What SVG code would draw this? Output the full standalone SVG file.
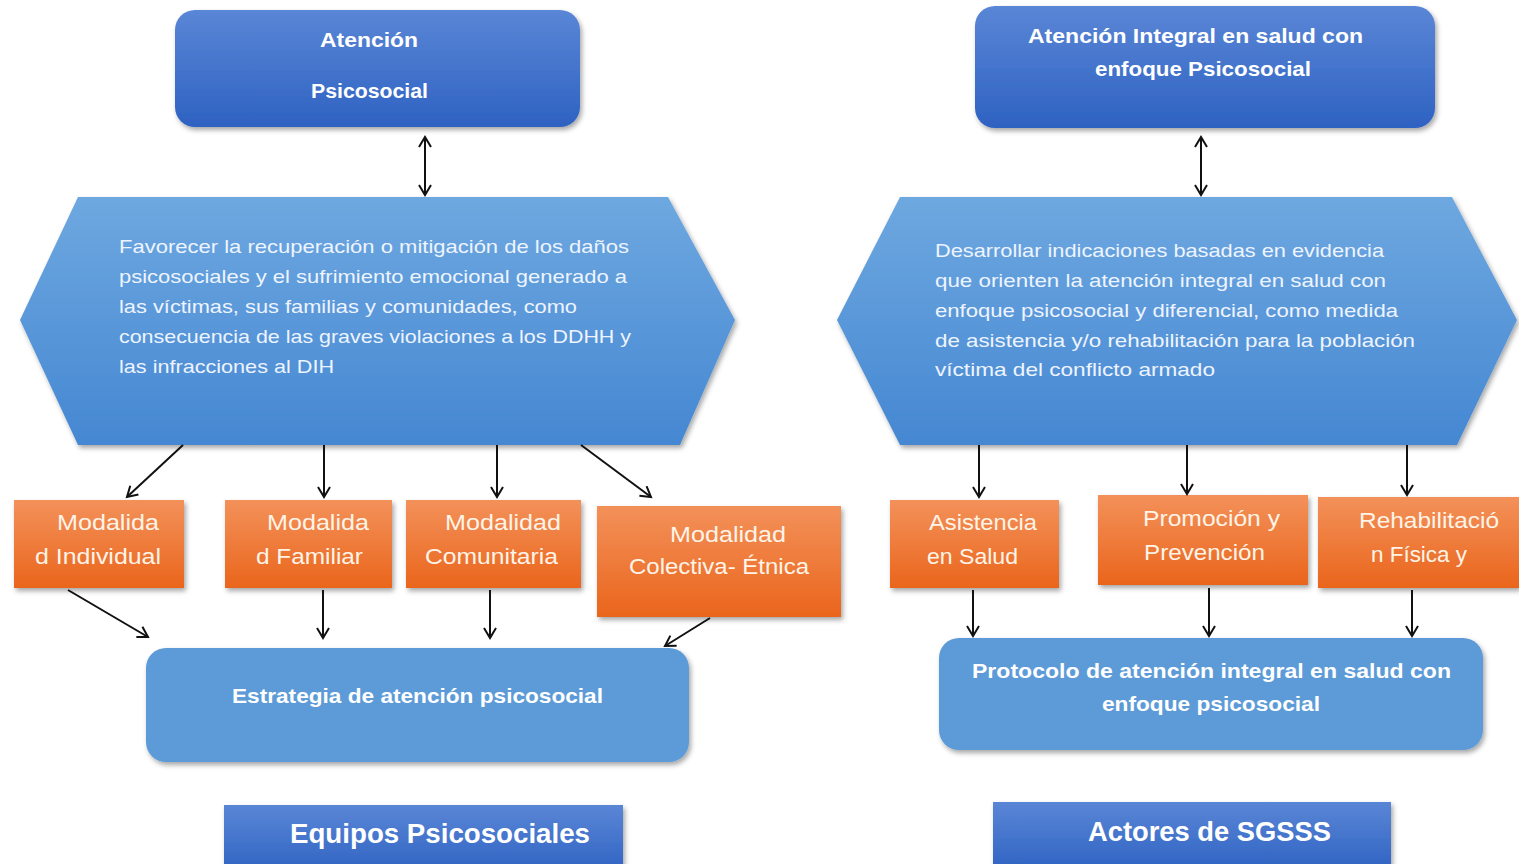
<svg xmlns="http://www.w3.org/2000/svg" width="1519" height="864" viewBox="0 0 1519 864">
<defs>
<linearGradient id="gBlue" x1="0" y1="0" x2="0" y2="1"><stop offset="0" stop-color="#5a86d6"/><stop offset="1" stop-color="#2e62c2"/></linearGradient>
<linearGradient id="gHex" x1="0" y1="0" x2="0" y2="1"><stop offset="0" stop-color="#6ea8e0"/><stop offset="1" stop-color="#4587d2"/></linearGradient>
<linearGradient id="gOr" x1="0" y1="0" x2="0" y2="1"><stop offset="0" stop-color="#f3915a"/><stop offset="1" stop-color="#ea651c"/></linearGradient>
<filter id="sh" x="-10%" y="-10%" width="120%" height="130%"><feDropShadow dx="2" dy="3" stdDeviation="2.5" flood-color="#000" flood-opacity="0.35"/></filter>
<marker id="ah" markerWidth="14" markerHeight="14" refX="11" refY="7" orient="auto" markerUnits="userSpaceOnUse"><path d="M1,1 L11,7 L1,13" fill="none" stroke="#111" stroke-width="2"/></marker>
<marker id="as" markerWidth="14" markerHeight="14" refX="3" refY="7" orient="auto" markerUnits="userSpaceOnUse"><path d="M13,1 L3,7 L13,13" fill="none" stroke="#111" stroke-width="2"/></marker>
</defs>
<style>
text{font-family:"Liberation Sans",Arial,sans-serif;fill:#fff}
.b{font-weight:bold}
.hx{font-size:18.5px;fill:#eef4ff}
.or{font-size:21.5px;fill:#fff4e8}
.top{font-size:20.5px}
.mid{font-size:21px}
.big{font-size:27px}
.c{fill:none;stroke:#111;stroke-width:2;marker-end:url(#ah)}
</style>
<rect width="1519" height="864" fill="#fff"/>

<g id="n-atencion">
<rect x="175" y="10" width="405" height="117" rx="20" fill="url(#gBlue)" filter="url(#sh)"/>
<text class="b top" x="320" y="47" textLength="98" lengthAdjust="spacingAndGlyphs">Atención</text>
<text class="b top" x="311" y="98" textLength="117" lengthAdjust="spacingAndGlyphs">Psicosocial</text>
</g>
<g id="n-atencion-integral">
<rect x="975" y="6" width="460" height="122" rx="20" fill="url(#gBlue)" filter="url(#sh)"/>
<text class="b top" x="1028" y="43" textLength="335" lengthAdjust="spacingAndGlyphs">Atención Integral en salud con</text>
<text class="b top" x="1095" y="76" textLength="216" lengthAdjust="spacingAndGlyphs">enfoque Psicosocial</text>
</g>

<g id="n-hex-left">
<polygon points="78,197 668,197 735,320 680,445 78,445 20,320" fill="url(#gHex)" filter="url(#sh)"/>
<text class="hx" x="119" y="253" textLength="510" lengthAdjust="spacingAndGlyphs">Favorecer la recuperación o mitigación de los daños</text>
<text class="hx" x="119" y="283" textLength="508" lengthAdjust="spacingAndGlyphs">psicosociales y el sufrimiento emocional generado a</text>
<text class="hx" x="119" y="313" textLength="458" lengthAdjust="spacingAndGlyphs">las víctimas, sus familias y comunidades, como</text>
<text class="hx" x="119" y="343" textLength="512" lengthAdjust="spacingAndGlyphs">consecuencia de las graves violaciones a los DDHH y</text>
<text class="hx" x="119" y="373" textLength="215" lengthAdjust="spacingAndGlyphs">las infracciones al DIH</text>
</g>
<g id="n-hex-right">
<polygon points="900,197 1452,197 1517,320 1457,445 900,445 837,320" fill="url(#gHex)" filter="url(#sh)"/>
<text class="hx" x="935" y="257" textLength="449" lengthAdjust="spacingAndGlyphs">Desarrollar indicaciones basadas en evidencia</text>
<text class="hx" x="935" y="287" textLength="451" lengthAdjust="spacingAndGlyphs">que orienten la atención integral en salud con</text>
<text class="hx" x="935" y="317" textLength="463" lengthAdjust="spacingAndGlyphs">enfoque psicosocial y diferencial, como medida</text>
<text class="hx" x="935" y="347" textLength="480" lengthAdjust="spacingAndGlyphs">de asistencia y/o rehabilitación para la población</text>
<text class="hx" x="935" y="376" textLength="280" lengthAdjust="spacingAndGlyphs">víctima del conflicto armado</text>
</g>

<g id="n-individual">
<rect x="14" y="500" width="170" height="88" fill="url(#gOr)" filter="url(#sh)"/>
<text class="or" x="57" y="530" textLength="102" lengthAdjust="spacingAndGlyphs">Modalida</text>
<text class="or" x="35" y="564" textLength="126" lengthAdjust="spacingAndGlyphs">d Individual</text>
</g>
<g id="n-familiar">
<rect x="225" y="500" width="167" height="88" fill="url(#gOr)" filter="url(#sh)"/>
<text class="or" x="267" y="530" textLength="102" lengthAdjust="spacingAndGlyphs">Modalida</text>
<text class="or" x="256" y="564" textLength="107" lengthAdjust="spacingAndGlyphs">d Familiar</text>
</g>
<g id="n-comunitaria">
<rect x="406" y="500" width="175" height="88" fill="url(#gOr)" filter="url(#sh)"/>
<text class="or" x="445" y="530" textLength="116" lengthAdjust="spacingAndGlyphs">Modalidad</text>
<text class="or" x="425" y="564" textLength="133" lengthAdjust="spacingAndGlyphs">Comunitaria</text>
</g>
<g id="n-colectiva">
<rect x="597" y="506" width="244" height="111" fill="url(#gOr)" filter="url(#sh)"/>
<text class="or" x="670" y="542" textLength="116" lengthAdjust="spacingAndGlyphs">Modalidad</text>
<text class="or" x="629" y="574" textLength="180" lengthAdjust="spacingAndGlyphs">Colectiva- Étnica</text>
</g>

<g id="n-asistencia">
<rect x="890" y="500" width="169" height="88" fill="url(#gOr)" filter="url(#sh)"/>
<text class="or" x="929" y="530" textLength="108" lengthAdjust="spacingAndGlyphs">Asistencia</text>
<text class="or" x="927" y="564" textLength="91" lengthAdjust="spacingAndGlyphs">en Salud</text>
</g>
<g id="n-promocion">
<rect x="1098" y="495" width="210" height="90" fill="url(#gOr)" filter="url(#sh)"/>
<text class="or" x="1143" y="526" textLength="137" lengthAdjust="spacingAndGlyphs">Promoción y</text>
<text class="or" x="1144" y="560" textLength="121" lengthAdjust="spacingAndGlyphs">Prevención</text>
</g>
<g id="n-rehabilitacion">
<rect x="1318" y="497" width="201" height="91" fill="url(#gOr)" filter="url(#sh)"/>
<text class="or" x="1359" y="528" textLength="140" lengthAdjust="spacingAndGlyphs">Rehabilitació</text>
<text class="or" x="1371" y="562" textLength="96" lengthAdjust="spacingAndGlyphs">n Física y</text>
</g>

<g id="n-estrategia">
<rect x="146" y="648" width="543" height="114" rx="20" fill="#5b9bd8" filter="url(#sh)"/>
<text class="b mid" x="232" y="703" textLength="371" lengthAdjust="spacingAndGlyphs">Estrategia de atención psicosocial</text>
</g>
<g id="n-protocolo">
<rect x="939" y="638" width="544" height="112" rx="20" fill="#5b9bd8" filter="url(#sh)"/>
<text class="b mid" x="972" y="678" textLength="479" lengthAdjust="spacingAndGlyphs">Protocolo de atención integral en salud con</text>
<text class="b mid" x="1102" y="711" textLength="218" lengthAdjust="spacingAndGlyphs">enfoque psicosocial</text>
</g>

<g id="n-equipos">
<rect x="224" y="805" width="399" height="70" fill="url(#gBlue)" filter="url(#sh)"/>
<text class="b big" x="290" y="843" textLength="300" lengthAdjust="spacingAndGlyphs">Equipos Psicosociales</text>
</g>
<g id="n-actores">
<rect x="993" y="802" width="398" height="70" fill="url(#gBlue)" filter="url(#sh)"/>
<text class="b big" x="1088" y="841" textLength="243" lengthAdjust="spacingAndGlyphs">Actores de SGSSS</text>
</g>

<g id="connectors">
<line class="c" x1="425" y1="137" x2="425" y2="195" style="marker-start:url(#as)"/>
<line class="c" x1="1201" y1="137" x2="1201" y2="195" style="marker-start:url(#as)"/>
<line class="c" x1="183" y1="445" x2="127" y2="497"/>
<line class="c" x1="324" y1="445" x2="324" y2="497"/>
<line class="c" x1="497" y1="445" x2="497" y2="497"/>
<line class="c" x1="581" y1="445" x2="651" y2="497"/>
<line class="c" x1="68" y1="590" x2="148" y2="637"/>
<line class="c" x1="323" y1="590" x2="323" y2="638"/>
<line class="c" x1="490" y1="590" x2="490" y2="638"/>
<line class="c" x1="710" y1="618" x2="665" y2="646"/>
<line class="c" x1="979" y1="445" x2="979" y2="497"/>
<line class="c" x1="1187" y1="445" x2="1187" y2="494"/>
<line class="c" x1="1407" y1="445" x2="1407" y2="495"/>
<line class="c" x1="973" y1="590" x2="973" y2="636"/>
<line class="c" x1="1209" y1="588" x2="1209" y2="636"/>
<line class="c" x1="1412" y1="590" x2="1412" y2="636"/>
</g>
</svg>
